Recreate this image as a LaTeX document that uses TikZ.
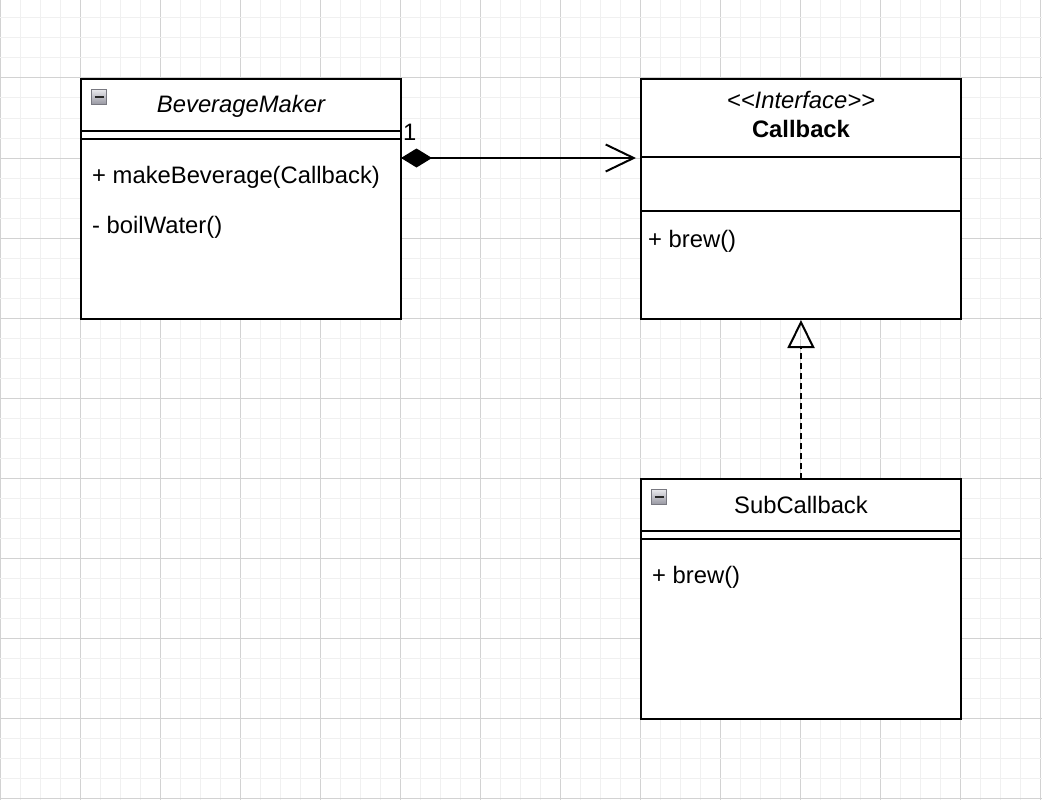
\documentclass[tikz,border=0pt]{standalone}
\usepackage{fontspec}
\setmainfont{Liberation Sans}
\usetikzlibrary{arrows.meta}
\definecolor{gridminor}{RGB}{240,240,240}
\definecolor{gridmajor}{RGB}{210,210,210}
\definecolor{iconborder}{RGB}{120,120,128}
\definecolor{icontop}{RGB}{232,232,236}
\definecolor{iconbot}{RGB}{150,150,160}
\newcommand{\umlsize}{\fontsize{23.8}{28}\selectfont}
\tikzset{
  umlbox/.style={draw, line width=2pt, fill=white, minimum width=320pt,
    anchor=north west, inner sep=0pt, outer sep=0pt},
  sepline/.style={line width=2pt},
  member/.style={anchor=base west, inner sep=0pt, font=\umlsize},
  title/.style={anchor=base, inner sep=0pt, font=\umlsize},
  toggle/.style={draw=iconborder, line width=1pt, top color=icontop,
    bottom color=iconbot, minimum size=15pt, inner sep=0pt, anchor=north west},
}
\newcommand{\togglebox}[2]{%
  \node[toggle] (#1) at #2 {};
  \draw[line width=2pt, black!85] ([xshift=3.5pt]#1.west) -- ([xshift=-3.5pt]#1.east);}
\begin{document}
\begin{tikzpicture}[x=1pt, y=-1pt]
\useasboundingbox (0,0) rectangle (1042,800);
\fill[white] (0,0) rectangle (1042,800);
% background grid
\foreach \i in {0,...,52} {
  \pgfmathtruncatemacro{\gx}{20*\i}
  \pgfmathtruncatemacro{\mj}{mod(\i,4)}
  \ifnum\mj=0 \draw[gridmajor, line width=1pt] (\gx,0) -- (\gx,800);
  \else \draw[gridminor, line width=1pt] (\gx,0) -- (\gx,800); \fi
}
\foreach \j in {0,...,40} {
  \pgfmathtruncatemacro{\gy}{20*\j-2}
  \pgfmathtruncatemacro{\mj}{mod(\j,4)}
  \ifnum\mj=0 \draw[gridmajor, line width=1pt] (0,\gy) -- (1042,\gy);
  \else \draw[gridminor, line width=1pt] (0,\gy) -- (1042,\gy); \fi
}

% BeverageMaker
\node[umlbox, minimum height=240pt] (bm) at (81,79) {};
\draw[sepline] ([yshift=-52pt]bm.north west) -- ([yshift=-52pt]bm.north east);
\draw[sepline] ([yshift=-60pt]bm.north west) -- ([yshift=-60pt]bm.north east);
\node[title, font=\umlsize\itshape] (bmname) at (241,113) {BeverageMaker};
\node[member] (bmop1) at (92,183) {+ makeBeverage(Callback)};
\node[member] (bmop2) at (92,233) {- boilWater()};
\togglebox{bmtoggle}{(91,89)}

% Callback interface
\node[umlbox, minimum height=240pt] (cb) at (641,79) {};
\node[inner sep=0pt, outer sep=0pt, minimum width=320pt, minimum height=78pt,
  anchor=north west] (cbhead) at (641,79) {};
\draw[sepline] (cbhead.south west) -- (cbhead.south east);
\draw[sepline] ([yshift=-132pt]cb.north west) -- ([yshift=-132pt]cb.north east);
\node[title, font=\umlsize\itshape] (cbstereo) at (801,109) {<{}<Interface>{}>};
\node[title, font=\umlsize\bfseries] (cbname) at (801,137) {Callback};
\node[member] (cbop1) at (648,247) {+ brew()};

% SubCallback
\node[umlbox, minimum height=240pt] (sc) at (641,479) {};
\draw[sepline] ([yshift=-52pt]sc.north west) -- ([yshift=-52pt]sc.north east);
\draw[sepline] ([yshift=-60pt]sc.north west) -- ([yshift=-60pt]sc.north east);
\node[title] (scname) at (801,513) {SubCallback};
\node[member] (scop1) at (652,583) {+ brew()};
\togglebox{sctoggle}{(651,489)}

% composition: BeverageMaker holds one Callback
\draw[line width=2pt, shorten >=5pt,
  {Diamond[length=31pt, width=19pt, fill=black]}-{Straight Barb[length=28pt, width=27pt]}]
  ([yshift=-1pt]bm.east |- cbhead.south) -- ([yshift=-1pt]cbhead.south west);
\node[member] (mult) at (403,140) {1};

% realization: SubCallback implements Callback
\draw[line width=2pt, dash pattern=on 6pt off 4pt,
  -{Triangle[open, length=28pt, width=27pt]}]
  (sc.north) -- ([yshift=-1pt]cb.south);
\end{tikzpicture}
\end{document}
